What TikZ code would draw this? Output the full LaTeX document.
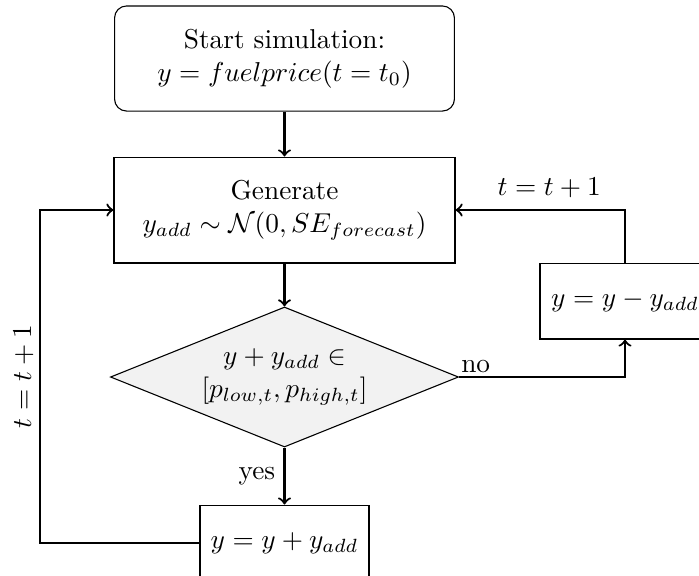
\documentclass[tikz,border=0pt]{standalone}
\usetikzlibrary{shapes.geometric}
\begin{document}
\begin{tikzpicture}[x=0.3663pt,y=-0.3663pt,
  box/.style={draw, line width=0.4pt, align=center, inner sep=0pt},
  startbox/.style={box, rounded corners=4.4pt},
  decision/.style={draw, diamond, aspect=2.49, fill=gray!10, inner sep=0pt, align=center},
  flow/.style={->, thick},
  lbl/.style={inner sep=1pt}]
\useasboundingbox (0,0) rectangle (699,575);
\node[startbox, minimum width=124.5pt, minimum height=38.5pt] (start) at (284.5,58.5)
  {Start simulation:\\ $y = fuelprice(t=t_0)$};
\node[box, minimum width=124.9pt, minimum height=38.8pt] (gen) at (284.5,210)
  {Generate\\ $y_{add}\sim\mathcal{N}(0,SE_{forecast})$};
\node[decision, minimum width=127.5pt, minimum height=51.3pt] (dec) at (284.5,377)
  {$y+y_{add}\in$\\ $[p_{low,t},p_{high,t}]$};
\node[box, minimum width=61.9pt, minimum height=27.8pt] (plus) at (284.5,543)
  {$y=y+y_{add}$};
\node[box, minimum width=62.3pt, minimum height=27.8pt] (minus) at (625,301)
  {$y=y-y_{add}$};
\coordinate (lc) at (40,543);
\coordinate (rc) at (625,210);
\draw[flow] (start) -- (gen);
\draw[flow] (gen) -- (dec);
\draw[flow] (dec) -- node[lbl, left, xshift=-2pt] {yes} (plus);
\draw[flow] (dec.east) -- node[lbl, above, pos=0.1] {no} (dec.east -| minus) -- (minus);
\draw[flow] (minus) -- (rc) -- node[lbl, above, yshift=3pt, xshift=3.3pt] {$t=t+1$} (gen);
\draw[flow] (plus) -- (lc) -- node[lbl, above, sloped, yshift=1pt] {$t=t+1$} (lc |- gen) -- (gen);
\end{tikzpicture}
\end{document}
